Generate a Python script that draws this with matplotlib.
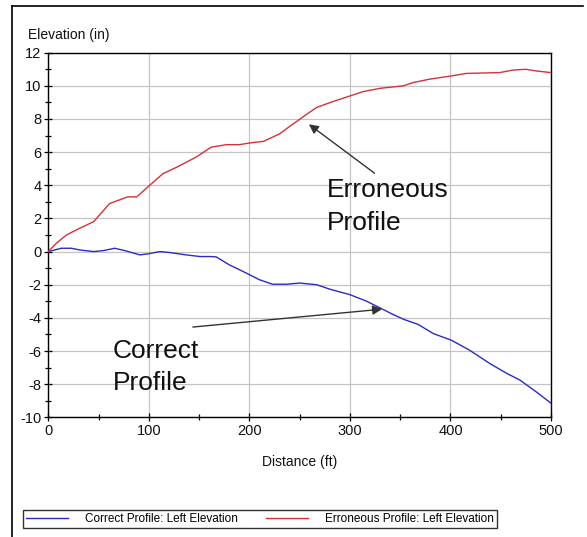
import matplotlib
matplotlib.use("Agg")
import matplotlib.pyplot as plt
from matplotlib.lines import Line2D
from matplotlib.ticker import MultipleLocator

plt.rcParams["axes.unicode_minus"] = False

# Profile data: distance along the road (ft) and left-edge elevation (in)
correct_dist = [0, 13, 23, 31, 45, 55, 66, 76, 91, 99, 111, 121, 137, 151, 161,
                167, 180, 197, 210, 223, 237, 250, 267, 280, 300, 316, 330, 343,
                354, 368, 383, 401, 419, 439, 456, 469, 485, 500]
correct_elev = [0, 0.2, 0.2, 0.1, 0.0, 0.06, 0.2, 0.06, -0.2, -0.14, 0.0, -0.06,
                -0.2, -0.3, -0.3, -0.32, -0.8, -1.3, -1.7, -1.97, -1.97, -1.9,
                -2.0, -2.27, -2.6, -2.98, -3.4, -3.8, -4.1, -4.4, -4.95, -5.35,
                -5.95, -6.75, -7.35, -7.75, -8.45, -9.15]

erroneous_dist = [0, 8, 18, 31, 45, 61, 79, 88, 99, 114, 128, 147, 162, 177, 190,
                  200, 214, 230, 240, 250, 255, 267, 283, 313, 330, 353, 363, 379,
                  401, 416, 449, 462, 475, 485, 500]
erroneous_elev = [0, 0.5, 1.0, 1.4, 1.8, 2.9, 3.3, 3.3, 3.9, 4.7, 5.1, 5.7, 6.3,
                  6.45, 6.45, 6.55, 6.65, 7.1, 7.55, 7.98, 8.2, 8.7, 9.05, 9.65,
                  9.85, 10.0, 10.2, 10.4, 10.6, 10.75, 10.8, 10.95, 11.0, 10.9, 10.8]

series_labels = ["Correct Profile: Left Elevation", "Erroneous Profile: Left Elevation"]
x_ticks = [0, 100, 200, 300, 400, 500]
y_ticks = [-10, -8, -6, -4, -2, 0, 2, 4, 6, 8, 10, 12]

W, H = 587, 537
fig = plt.figure(figsize=(W / 100, H / 100), dpi=100)
fig.patch.set_facecolor("white")

narrow = ["Liberation Sans Narrow", "Liberation Sans", "DejaVu Sans"]
regular = ["Liberation Sans", "DejaVu Sans"]

ax = fig.add_axes([48.3 / W, 1 - 417.3 / H, (551 - 48.3) / W, (417.3 - 52.7) / H])

blue = "#2b2bc2"
red = "#d6303a"
ax.plot(correct_dist, correct_elev, color=blue, lw=1.0, label=series_labels[0], zorder=3)
ax.plot(erroneous_dist, erroneous_elev, color=red, lw=1.0, label=series_labels[1], zorder=3)

ax.set_xlim(0, 500)
ax.set_ylim(-10, 12)
ax.set_xticks(x_ticks)
ax.set_yticks(y_ticks)
ax.xaxis.set_minor_locator(MultipleLocator(50))
ax.yaxis.set_minor_locator(MultipleLocator(1))
ax.grid(True, which="major", color="#c4c4c4", lw=0.9, zorder=0)
ax.tick_params(which="major", direction="inout", length=6, width=0.9, color="black", pad=2)
ax.tick_params(which="minor", direction="inout", length=5, width=0.9, color="black")
for lbl in ax.get_xticklabels() + ax.get_yticklabels():
    lbl.set_family(narrow)
    lbl.set_fontsize(10.5)
    lbl.set_color("#111111")
for sp in ax.spines.values():
    sp.set_color("black")
    sp.set_linewidth(1.0)

fig.text(28.3 / W, 1 - 35 / H, "Elevation (in)", ha="left", va="center",
         fontsize=10, family=regular, color="#111111")
fig.text(300 / W, 1 - 462 / H, "Distance (ft)", ha="center", va="center",
         fontsize=10, family=regular, color="#111111")

# Callouts
arrow = dict(arrowstyle="-|>", color="#333333", lw=1.0, mutation_scale=14)
ax.annotate("", xy=(257, 7.78), xytext=(326.7, 4.63), arrowprops=arrow)
ax.annotate("", xy=(334.7, -3.46), xytext=(141, -4.57), arrowprops=arrow)
big = dict(fontsize=19, family=regular, color="#111111", va="baseline", ha="left")
ax.text(276.7, 3.32, "Erroneous", **big)
ax.text(276.7, 1.31, "Profile", **big)
ax.text(64, -6.44, "Correct", **big)
ax.text(64, -8.36, "Profile", **big)

# Legend strip at the bottom
leg = fig.legend(loc="lower left", bbox_to_anchor=(22.7 / W, 1 - 527.7 / H),
                 ncol=2, frameon=True, fancybox=False, edgecolor="black",
                 prop={"family": narrow, "size": 8.5},
                 handlelength=3.6, handletextpad=1.4, columnspacing=2.4,
                 borderpad=0.25, borderaxespad=0)
leg.get_frame().set_linewidth(1.0)

# Outer panel border (top and left edges)
fig.add_artist(Line2D([12 / W, 583 / W], [1 - 6 / H, 1 - 6 / H],
                      transform=fig.transFigure, color="black", lw=1.2))
fig.add_artist(Line2D([12 / W, 12 / W], [1 - 6 / H, 0],
                      transform=fig.transFigure, color="black", lw=1.2))

fig.savefig("out.png", dpi=100)
